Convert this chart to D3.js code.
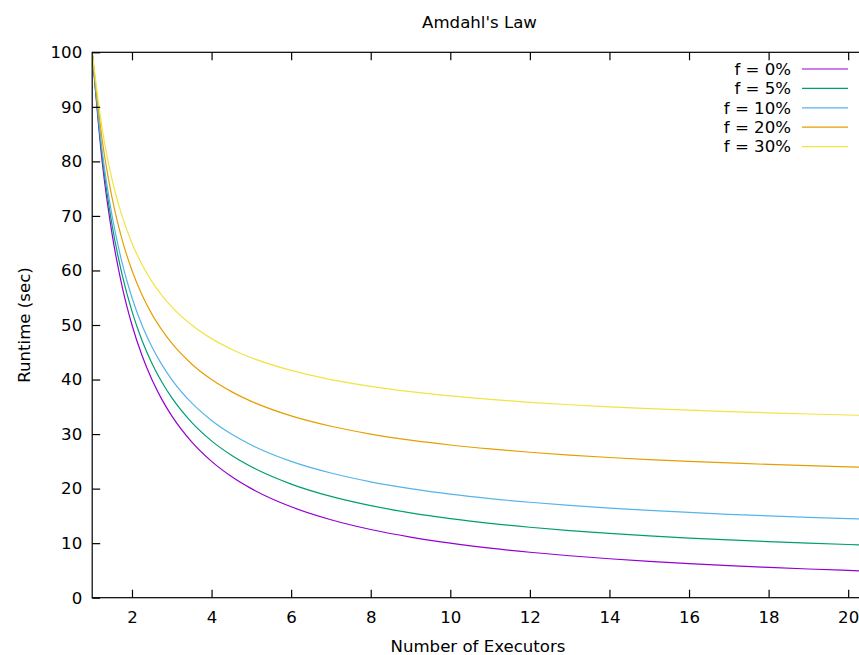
<!DOCTYPE html>
<html><head><meta charset="utf-8">
<script src="https://cdn.jsdelivr.net/npm/d3@7"></script>
<style>
html,body{margin:0;padding:0;background:#fff;}
svg{display:block;font-family:"DejaVu Sans",sans-serif;}
</style></head>
<body><svg id="c" width="859" height="655"></svg>
<script>
const executors = [1,1.25,1.5,1.75,2,2.25,2.5,2.75,3,3.5,4,4.5,5,6,7,8,9,10,11,12,13,14,15,16,17,18,19,20,20.4];
const seriesNames = ["f = 0%","f = 5%","f = 10%","f = 20%","f = 30%"];
const f0  = [100,80,66.67,57.14,50,44.44,40,36.36,33.33,28.57,25,22.22,20,16.67,14.29,12.5,11.11,10,9.09,8.33,7.69,7.14,6.67,6.25,5.88,5.56,5.26,5,4.9];
const f5  = [100,81,68.33,59.29,52.5,47.22,43,39.55,36.67,32.14,28.75,26.11,24,20.83,18.57,16.88,15.56,14.5,13.64,12.92,12.31,11.79,11.33,10.94,10.59,10.28,10,9.75,9.66];
const f10 = [100,82,70,61.43,55,50,46,42.73,40,35.71,32.5,30,28,25,22.86,21.25,20,19,18.18,17.5,16.92,16.43,16,15.63,15.29,15,14.74,14.5,14.41];
const f20 = [100,84,73.33,65.71,60,55.56,52,49.09,46.67,42.86,40,37.78,36,33.33,31.43,30,28.89,28,27.27,26.67,26.15,25.71,25.33,25,24.71,24.44,24.21,24,23.92];
const f30 = [100,86,76.67,70,65,61.11,58,55.45,53.33,50,47.5,45.56,44,41.67,40,38.75,37.78,37,36.36,35.83,35.38,35,34.67,34.38,34.12,33.89,33.68,33.5,33.43];
const seriesValues = [f0,f5,f10,f20,f30];
const colors = ["#9400d3","#009e73","#56b4e9","#e69f00","#f0e442"];
const xTicks = [2,4,6,8,10,12,14,16,18,20];
const yTicks = [0,10,20,30,40,50,60,70,80,90,100];

const svg = d3.select("#c");
const L=92.2, R=864.1, T=52.3, B=597.7;
const x = d3.scaleLinear().domain([1,20.4]).range([L,R]);
const y = d3.scaleLinear().domain([0,100]).range([B,T]);
const fs = 16.6;

svg.append("defs").append("clipPath").attr("id","clip")
  .append("rect").attr("x",L).attr("y",T).attr("width",R-L).attr("height",B-T);

// series
const line = d3.line().x(d=>x(d[0])).y(d=>y(d[1])).curve(d3.curveMonotoneX);
seriesValues.forEach((vals,i)=>{
  svg.append("path").attr("clip-path","url(#clip)")
    .datum(executors.map((n,j)=>[n,vals[j]]))
    .attr("d",line).attr("fill","none").attr("stroke",colors[i]).attr("stroke-width",1.2);
});

// border
svg.append("rect").attr("x",L).attr("y",T).attr("width",R-L).attr("height",B-T)
  .attr("fill","none").attr("stroke","#000").attr("stroke-width",1.2);

// axes
const tl = 8;
const gBottom = svg.append("g").attr("transform",`translate(0,${B})`)
  .call(d3.axisBottom(x).tickValues(xTicks).tickSizeInner(-tl).tickSizeOuter(0).tickPadding(14));
const gTop = svg.append("g").attr("transform",`translate(0,${T})`)
  .call(d3.axisTop(x).tickValues(xTicks).tickSizeInner(-tl).tickSizeOuter(0).tickFormat(""));
const gLeft = svg.append("g").attr("transform",`translate(${L},0)`)
  .call(d3.axisLeft(y).tickValues(yTicks).tickSizeInner(-tl).tickSizeOuter(0).tickPadding(10));
[gBottom,gTop,gLeft].forEach(g=>{
  g.select(".domain").remove();
  g.selectAll(".tick line").attr("stroke","#000").attr("stroke-width",1.2);
  g.selectAll("text").attr("font-size",fs).attr("font-family","DejaVu Sans").attr("fill","#000");
});

// titles
svg.append("text").attr("x",479.5).attr("y",28).attr("text-anchor","middle")
  .attr("font-size",fs).text("Amdahl's Law");
svg.append("text").attr("x",478).attr("y",652).attr("text-anchor","middle")
  .attr("font-size",fs).text("Number of Executors");
svg.append("text").attr("transform",`translate(30,${(T+B)/2}) rotate(-90)`).attr("text-anchor","middle")
  .attr("font-size",fs).text("Runtime (sec)");

// legend
const lg = svg.append("g");
seriesNames.forEach((name,i)=>{
  const yy = 69 + i*19.4;
  lg.append("text").attr("x",791).attr("y",yy).attr("dy","0.35em").attr("text-anchor","end")
    .attr("font-size",fs).text(name);
  lg.append("line").attr("x1",802).attr("x2",848).attr("y1",yy).attr("y2",yy)
    .attr("stroke",colors[i]).attr("stroke-width",1.2);
});
</script></body></html>
